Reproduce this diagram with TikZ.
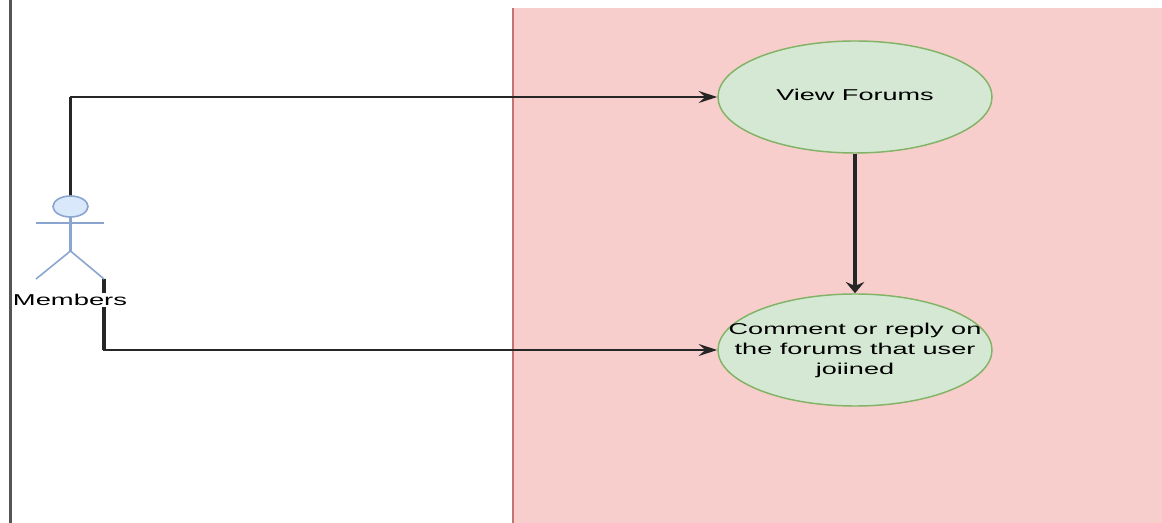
\documentclass[tikz,border=0pt]{standalone}
\usepackage{fontspec}
\setmainfont{Liberation Sans}
\usetikzlibrary{arrows.meta,shapes.geometric}
\definecolor{pinkfill}{HTML}{F8CECC}
\definecolor{pinkline}{HTML}{C57471}
\definecolor{greenfill}{HTML}{D5E8D4}
\definecolor{greenline}{HTML}{82B366}
\definecolor{bluefill}{HTML}{DAE8FC}
\definecolor{blueline}{HTML}{8AA6D0}
\definecolor{lanegray}{HTML}{555555}
\newcommand{\stretchtext}[1]{\makebox[0pt][c]{\scalebox{1.72}[1]{\fontsize{11.8}{15}\selectfont\begin{tabular}{@{}c@{}}#1\end{tabular}}}}
\tikzset{
  usecase/.style={ellipse, draw=greenline, fill=greenfill, line width=1.1pt,
    minimum width=205.5pt, minimum height=84pt, inner sep=0pt, text=black},
  hconn/.style={draw=black!85, line width=1.5pt, -{Stealth[length=14pt,width=9pt,inset=5pt]}},
  vconn/.style={draw=black!85, line width=2.4pt, -{Stealth[length=8.5pt,width=14pt,inset=3pt]}},
  vseg/.style={draw=black!85, line width=2.4pt},
  actorline/.style={draw=blueline, line width=1.2pt},
  lbl/.style={fill=white, inner sep=1pt, text=black}
}
\begin{document}
\begin{tikzpicture}[x=0.75pt,y=-0.75pt]
\useasboundingbox (0,0) rectangle (1162,523);
% swimlane
\fill[pinkfill] (513,8) rectangle (1162,523);
\draw[pinkline, line width=2pt] (513,8) -- (513,523);
\draw[lanegray, line width=2pt] (10.5,0) -- (10.5,523);
% use cases
\node[usecase] (view) at (855,97) {\stretchtext{View Forums}};
\node[usecase] (comment) at (855,350) {\stretchtext{Comment or reply on\\ the forums that user\\ joiined}};
% actor
\coordinate (head) at (70.5,206.5);
\coordinate (headtop) at (70.5,196);
\coordinate (neck) at (70.5,217);
\coordinate (hip) at (70.5,251);
\coordinate (larm) at (36,223);
\coordinate (rarm) at (104,223);
\coordinate (lleg) at (36,279);
\coordinate (rleg) at (104,279);
\coordinate (bend1) at (70.5,97);
\coordinate (bend2) at (104,350);
% connectors
\draw[hconn] (headtop) -- (bend1) -- (view.west);
\draw[vseg] (headtop) -- (bend1);
\draw[hconn] (rleg) -- (bend2) -- (comment.west);
\draw[vseg] (rleg) -- (bend2);
\draw[vconn] (view.south) -- (comment.north);
% actor figure
\draw[actorline, fill=bluefill] (head) ellipse [x radius=17.5, y radius=10.5];
\draw[actorline, line width=1.8pt] (neck) -- (hip);
\draw[actorline] (larm) -- (rarm);
\draw[actorline] (lleg) -- (hip) -- (rleg);
\node[lbl] (members) at (70,300) {\scalebox{1.74}[1]{\fontsize{11.8}{14}\selectfont Members}};
\end{tikzpicture}
\end{document}
